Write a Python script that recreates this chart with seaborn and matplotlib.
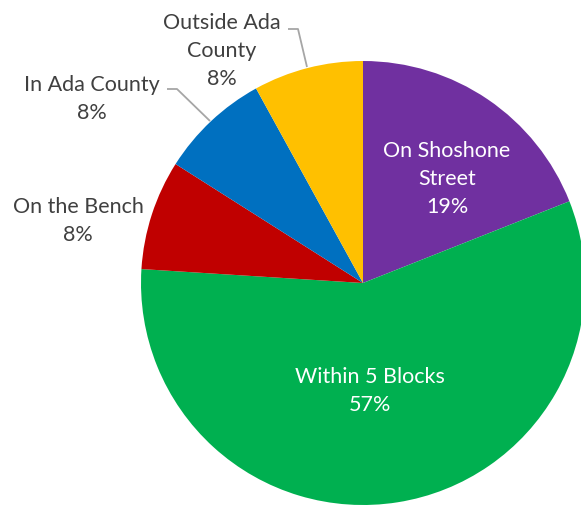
import matplotlib
matplotlib.use("Agg")
import matplotlib.pyplot as plt
import seaborn as sns

categories = ["On Shoshone\nStreet", "Within 5 Blocks", "On the Bench", "In Ada County", "Outside Ada\nCounty"]
values = [19, 57, 8, 8, 8]
colors = ["#7030A0", "#00B050", "#C00000", "#0070C0", "#FFC000"]

sns.set_style("white")
plt.rcParams["font.family"] = ["Lato", "DejaVu Sans"]

W, H = 581, 506
fig = plt.figure(figsize=(W / 100, H / 100), dpi=100)
ax = fig.add_axes([0, 0, 1, 1])
ax.axis("off")

cx, cy, r = 363, H - 284, 222
ax.pie(values, colors=sns.color_palette(colors), startangle=90, counterclock=False,
       radius=r, center=(cx, cy), frame=False,
       wedgeprops=dict(linewidth=0))
ax.set_xlim(0, W)
ax.set_ylim(0, H)
ax.set_aspect("equal")

fs = 15.5
txt_dark = "#404040"
# label positions (pixel coords, y from top)
label_pos = [(447, 179, "white"), (370, 391, "white"), (78, 221, txt_dark),
             (92, 99, txt_dark), (222, 51, txt_dark)]
for cat, v, (px, py, col) in zip(categories, values, label_pos):
    ax.text(px, H - py, f"{cat}\n{v}%", ha="center", va="center", multialignment="center",
            color=col, fontsize=fs, linespacing=1.5)

# leader lines
lc = "#A6A6A6"
ax.plot([307, 298, 288], [H - 68, H - 30, H - 30], color=lc, lw=1.3, solid_capstyle="butt")
ax.plot([167, 177, 210], [H - 90, H - 90, H - 122], color=lc, lw=1.3, solid_capstyle="butt")

fig.savefig("out.png", dpi=100)
